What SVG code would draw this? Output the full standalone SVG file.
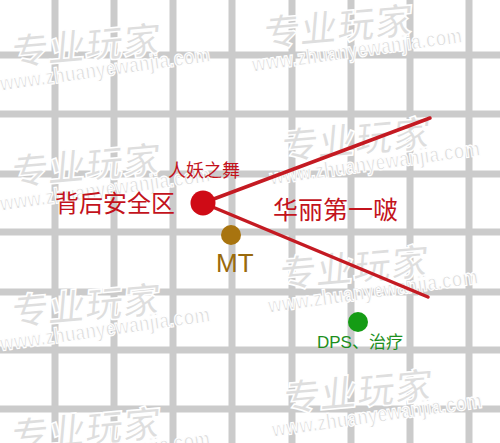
<svg xmlns="http://www.w3.org/2000/svg" xmlns:xlink="http://www.w3.org/1999/xlink" width="500" height="443" viewBox="0 0 500 443">
<style>
.grid line{stroke:#cbcbcb;stroke-width:7}
.wmcn{font-family:"Noto Sans CJK SC","Noto Sans",sans-serif;font-weight:700;font-size:37px;fill:#dedede;stroke:#fff;stroke-width:1.5}
.wmen{font-family:"Liberation Sans","DejaVu Sans",sans-serif;font-weight:700;font-size:22px;fill:#dedede;stroke:#fff;stroke-width:1.2}
.red{fill:#c3131c}
.lbl{font-family:"Liberation Sans","Noto Sans CJK SC",sans-serif}
.conn line{stroke:#c41a22;stroke-width:3.5;stroke-linecap:round}
</style>
<defs>
<g id="wm">
<text class="wmcn" transform="rotate(-5) skewX(-10)" x="4" y="0" textLength="150" lengthAdjust="spacingAndGlyphs">专业玩家</text>
<text class="wmen" transform="translate(-5,25) rotate(-8)" x="0" y="0" textLength="212" lengthAdjust="spacingAndGlyphs">www.zhuanyewanjia.com</text>
</g>
</defs>
<rect width="500" height="443" fill="#fff"/>
<g class="grid">
<line x1="55" y1="0" x2="55" y2="443"/>
<line x1="114" y1="0" x2="114" y2="443"/>
<line x1="173" y1="0" x2="173" y2="443"/>
<line x1="232" y1="0" x2="232" y2="443"/>
<line x1="292" y1="0" x2="292" y2="443"/>
<line x1="351" y1="0" x2="351" y2="443"/>
<line x1="410" y1="0" x2="410" y2="443"/>
<line x1="469" y1="0" x2="469" y2="443"/>
<line x1="0" y1="55" x2="500" y2="55"/>
<line x1="0" y1="114" x2="500" y2="114"/>
<line x1="0" y1="174" x2="500" y2="174"/>
<line x1="0" y1="232" x2="500" y2="232"/>
<line x1="0" y1="292" x2="500" y2="292"/>
<line x1="0" y1="350" x2="500" y2="350"/>
<line x1="0" y1="409" x2="500" y2="409"/>
</g>
<g id="watermarks">
<use xlink:href="#wm" x="6" y="66"/>
<use xlink:href="#wm" x="258" y="47"/>
<use xlink:href="#wm" x="6" y="186"/>
<use xlink:href="#wm" x="276" y="160"/>
<use xlink:href="#wm" x="6" y="326"/>
<use xlink:href="#wm" x="274" y="288"/>
<use xlink:href="#wm" x="6" y="450"/>
<use xlink:href="#wm" x="278" y="412"/>
</g>
<g id="connectors" class="conn">
<line x1="203" y1="203" x2="430" y2="118"/>
<line x1="203" y1="203" x2="428" y2="297"/>
</g>
<g id="node-back">
<circle cx="203" cy="203" r="12.5" fill="#cf0b16"/>
<text class="lbl red" x="55" y="212" font-size="24">背后安全区</text>
<text class="lbl red" x="168" y="177" font-size="18">人妖之舞</text>
</g>
<g id="node-breath">
<text class="lbl red" x="273" y="219" font-size="25">华丽第一啵</text>
</g>
<g id="node-mt">
<circle cx="231" cy="235" r="10" fill="#a8740f"/>
<text class="lbl" x="216" y="272" font-size="26" fill="#9a6a0c">MT</text>
</g>
<g id="node-dps">
<circle cx="358" cy="322" r="10" fill="#159c15"/>
<text class="lbl" x="317" y="348" font-size="17" fill="#1d8f1d">DPS、治疗</text>
</g>
</svg>
